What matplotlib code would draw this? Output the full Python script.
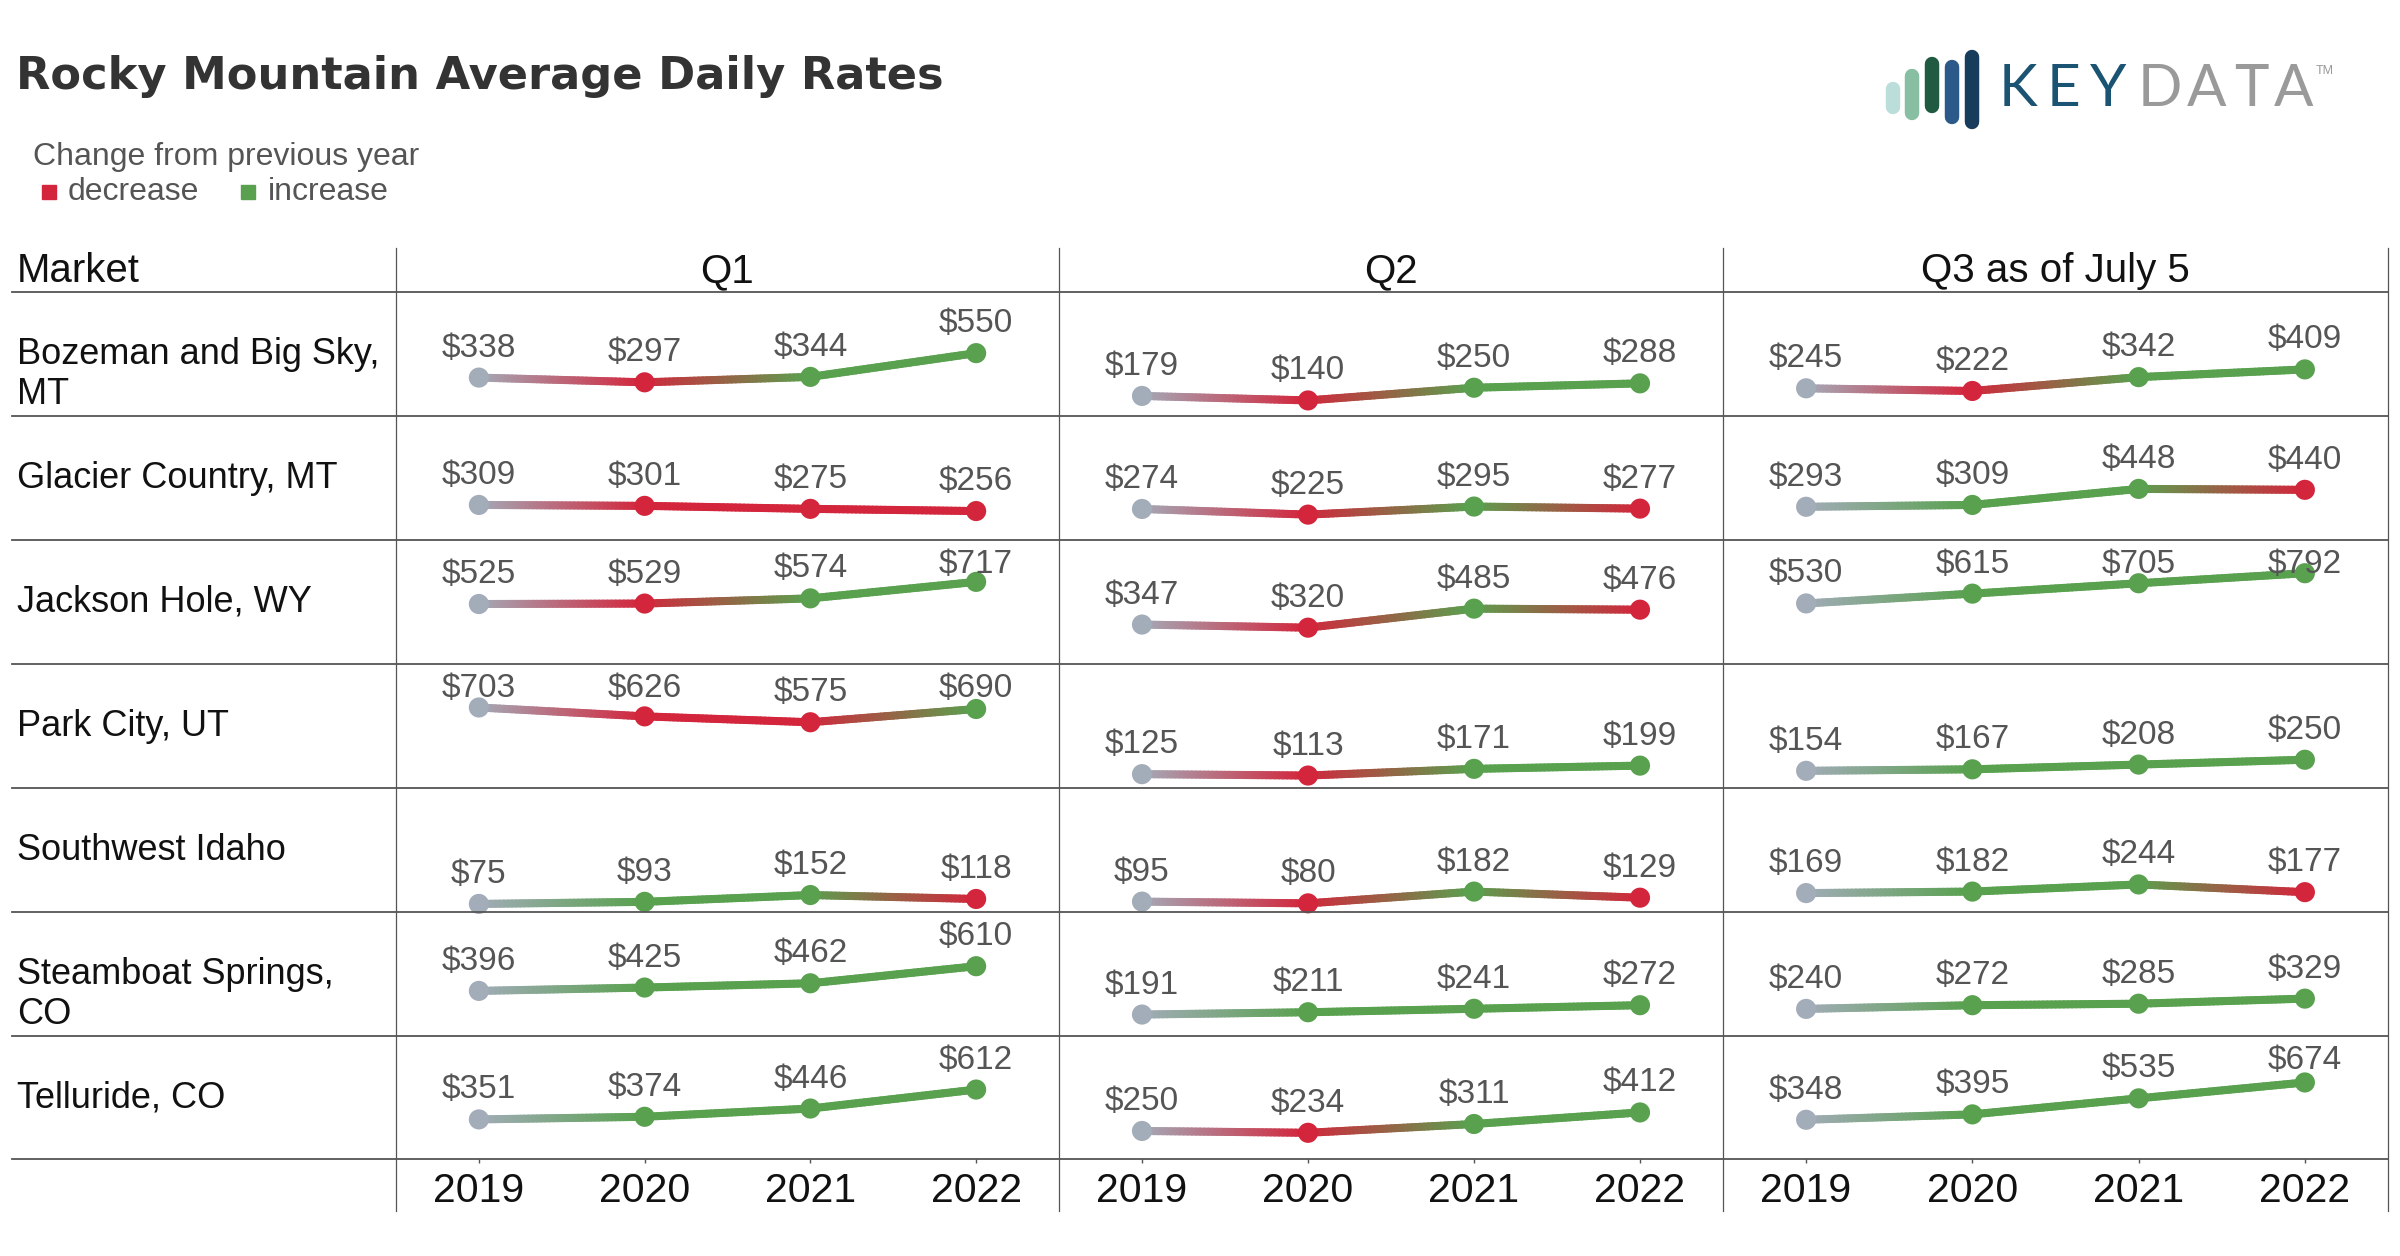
import numpy as np
import matplotlib
matplotlib.use("Agg")
import matplotlib.pyplot as plt
from matplotlib.collections import LineCollection
from matplotlib.lines import Line2D
from matplotlib.patches import Rectangle
from matplotlib.colors import to_rgb

plt.rcParams['font.family'] = ['Liberation Sans', 'DejaVu Sans']

# ---- data -------------------------------------------------------------
markets = ["Bozeman and Big Sky,\nMT", "Glacier Country, MT", "Jackson Hole, WY",
           "Park City, UT", "Southwest Idaho", "Steamboat Springs,\nCO", "Telluride, CO"]
quarters = ["Q1", "Q2", "Q3 as of July 5"]
years = [2019, 2020, 2021, 2022]

q1 = [[338, 297, 344, 550],
      [309, 301, 275, 256],
      [525, 529, 574, 717],
      [703, 626, 575, 690],
      [75, 93, 152, 118],
      [396, 425, 462, 610],
      [351, 374, 446, 612]]
q2 = [[179, 140, 250, 288],
      [274, 225, 295, 277],
      [347, 320, 485, 476],
      [125, 113, 171, 199],
      [95, 80, 182, 129],
      [191, 211, 241, 272],
      [250, 234, 311, 412]]
q3 = [[245, 222, 342, 409],
      [293, 309, 448, 440],
      [530, 615, 705, 792],
      [154, 167, 208, 250],
      [169, 182, 244, 177],
      [240, 272, 285, 329],
      [348, 395, 535, 674]]
# (market, quarter, year index) shown as a decrease in the source despite rounded values
shown_decrease = [(2, 0, 1)]

# ---- styles -----------------------------------------------------------
GRAY = "#a3acb9"
RED = "#d3263c"
GREEN = "#59a14f"
LINE = "#555555"

W, H = 2400, 1256
fig = plt.figure(figsize=(24, 12.56), dpi=100)


def fx(px):
    return px / W


def fy(py):
    return 1 - py / H


row_tops = [292, 416, 540, 664, 788, 912, 1036, 1159]
col_edges = [396, 1059, 1723, 2388]
YMIN, YMAX = 5, 1080

# title and legend
fig.text(fx(16), fy(77), "Rocky Mountain Average Daily Rates", fontsize=32.2,
         fontweight="bold", color="#333333", family="DejaVu Sans", va="center")
fig.text(fx(33), fy(157), "Change from previous year", fontsize=23,
         color="#555555", va="center")
fig.add_artist(Rectangle((fx(42), fy(199)), fx(14), 14 / H, color=RED,
                         transform=fig.transFigure))
fig.text(fx(68), fy(192), "decrease", fontsize=23, color="#555555", va="center")
fig.add_artist(Rectangle((fx(241), fy(199)), fx(14), 14 / H, color=GREEN,
                         transform=fig.transFigure))
fig.text(fx(268), fy(192), "increase", fontsize=23, color="#555555", va="center")

# logo
bars = [(1892.5, 82, 114, "#bcdedb"), (1912, 69, 120, "#88bea1"),
        (1932, 57, 113, "#1f5a41"), (1951.5, 60, 124, "#2b5a8a"),
        (1972, 50, 129, "#173c5c")]
for bx, y0, y1, c in bars:
    fig.add_artist(Line2D([fx(bx), fx(bx)], [fy(y0 + 7), fy(y1 - 7)], lw=10.4,
                          color=c, solid_capstyle="round", transform=fig.transFigure))
for ch, lx, c in [("K", 2018.5, "#1b5472"), ("E", 2064, "#1b5472"), ("Y", 2108.5, "#1b5472"),
                  ("D", 2160, "#9a9a9a"), ("A", 2207, "#9a9a9a"), ("T", 2251.6, "#9a9a9a"),
                  ("A", 2294, "#9a9a9a")]:
    fig.text(fx(lx), fy(89), ch, fontsize=42, color=c, family="Lato",
             ha="center", va="center")
fig.text(fx(2325), fy(71), "TM", fontsize=9, color="#9a9a9a", ha="center", va="center")

# table lines
for ry in row_tops:
    fig.add_artist(Line2D([fx(12), fx(2388)], [fy(ry), fy(ry)], lw=1.3, color=LINE,
                          transform=fig.transFigure))
for cx in col_edges:
    fig.add_artist(Line2D([fx(cx), fx(cx)], [fy(248), fy(1211)], lw=0.9, color=LINE,
                          transform=fig.transFigure))

# headers
fig.text(fx(17), fy(271), "Market", fontsize=29, color="#111111", va="center")
for c, q in enumerate(quarters):
    fig.text(fx((col_edges[c] + col_edges[c + 1]) / 2), fy(271), q, fontsize=29,
             color="#111111", ha="center", va="center")

# row labels
for r, m in enumerate(markets):
    center = (row_tops[r] + row_tops[r + 1]) / 2
    for k, part in enumerate(m.split("\n")):
        fig.text(fx(17), fy(center + 40 * k), part, fontsize=26, color="#111111",
                 va="center")


def point_colors(vals, r, c):
    cols = [GRAY]
    for i in range(1, len(vals)):
        dec = vals[i] < vals[i - 1] or (r, c, i) in shown_decrease
        cols.append(RED if dec else GREEN)
    return cols


data = [q1, q2, q3]
for r in range(len(markets)):
    for c in range(3):
        x0, x1 = col_edges[c], col_edges[c + 1]
        y0, y1 = row_tops[r], row_tops[r + 1]
        ax = fig.add_axes([fx(x0), fy(y1), fx(x1 - x0), (y1 - y0) / H])
        ax.set_xlim(2018.5, 2022.5)
        ax.set_ylim(YMIN, YMAX)
        ax.patch.set_visible(False)
        for s in ax.spines.values():
            s.set_visible(False)
        ax.set_yticks([])
        vals = data[c][r]
        cols = point_colors(vals, r, c)
        segs, segcols = [], []
        for i in range(len(years) - 1):
            t = np.linspace(0, 1, 41)
            xs = years[i] + (years[i + 1] - years[i]) * t
            ys = vals[i] + (vals[i + 1] - vals[i]) * t
            ca, cb = np.array(to_rgb(cols[i])), np.array(to_rgb(cols[i + 1]))
            for j in range(len(t) - 1):
                segs.append([(xs[j], ys[j]), (xs[j + 1], ys[j + 1])])
                tm = (t[j] + t[j + 1]) / 2
                segcols.append(ca + (cb - ca) * tm)
        lc = LineCollection(segs, colors=segcols, linewidths=5.8, capstyle="round",
                            clip_on=False, zorder=2)
        ax.add_collection(lc)
        ax.scatter(years, vals, s=14.5 ** 2, c=cols, zorder=3, clip_on=False,
                   linewidths=0)
        cell_h = y1 - y0
        for yr, v in zip(years, vals):
            # labels sit above the point but are kept inside the cell
            dist_top = (YMAX - v) / (YMAX - YMIN) * cell_h
            off_px = min(21, dist_top - 33)
            ax.annotate(f"${v}", (yr, v), xytext=(0, off_px * 0.72),
                        textcoords="offset points", ha="center", va="baseline",
                        fontsize=24, color="#555555", annotation_clip=False, zorder=4)
        if r == len(markets) - 1:
            ax.set_xticks(years)
            ax.set_xticklabels([str(y) for y in years])
            ax.tick_params(axis="x", direction="out", length=3, width=1, color=LINE,
                           pad=6.5, labelsize=29.5, labelcolor="#111111")
        else:
            ax.set_xticks([])

fig.savefig("out.png", dpi=100, facecolor="white")
